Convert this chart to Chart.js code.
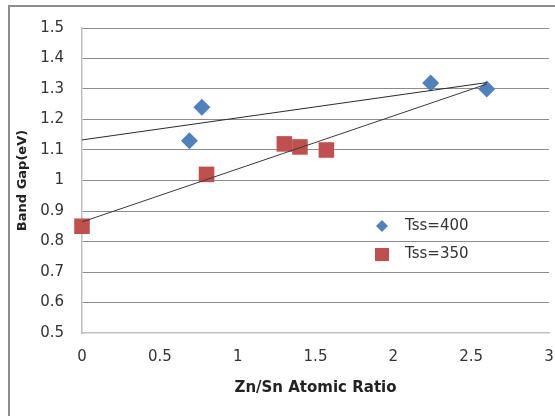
<!DOCTYPE html>
<html>
<head>
<meta charset="utf-8">
<script src="https://cdn.jsdelivr.net/npm/chart.js@4/dist/chart.umd.min.js"></script>
<style>
  html, body { margin: 0; padding: 0; background: #fff; }
  #wrap { position: relative; width: 555px; height: 416px; overflow: hidden; background: #fff; }
  #frame { position: absolute; left: 8px; top: 5px; width: 600px; height: 500px; border: 2px solid #8c8c8c; }
  #myChart { position: absolute; left: 0; top: 0; }
</style>
</head>
<body>
<div id="wrap">
  <div id="frame"></div>
  <canvas id="myChart" width="555" height="416"></canvas>
</div>
<script>
'use strict';
// values
const ratio400 = [0.69, 0.77, 2.24, 2.6];
const gap400 = [1.13, 1.24, 1.32, 1.30];
const ratio350 = [0, 0.8, 1.3, 1.4, 1.57];
const gap350 = [0.85, 1.02, 1.12, 1.11, 1.10];

// trend lines (end points)
const trend400X = [0, 2.6];
const trend400Y = [1.133, 1.321];
const trend350X = [0, 2.6];
const trend350Y = [0.864, 1.316];

const seriesNames = ['Tss=400', 'Tss=350'];
const xTicks = [0, 0.5, 1, 1.5, 2, 2.5, 3];
const yMin = 0.5;
const yMax = 1.5;

const blue = '#4f81bd';
const red = '#c0504d';
const font = 'DejaVu Sans';

function toPoints(xs, ys) {
  let pts = [];
  for (let i = 0; i < xs.length; i++) {
    pts.push({ x: xs[i], y: ys[i] });
  }
  return pts;
}

// draws the little legend inside the plot
const legendBox = {
  id: 'legendBox',
  afterDraw(chart) {
    const ctx = chart.ctx;
    ctx.save();
    // diamond
    ctx.fillStyle = blue;
    ctx.beginPath();
    ctx.moveTo(382, 220);
    ctx.lineTo(388, 226);
    ctx.lineTo(382, 232);
    ctx.lineTo(376, 226);
    ctx.closePath();
    ctx.fill();
    // square
    ctx.fillStyle = red;
    ctx.fillRect(375, 248, 14, 13);

    ctx.fillStyle = '#333';
    ctx.font = '15px "' + font + '"';
    ctx.textBaseline = 'middle';
    ctx.textAlign = 'left';
    ctx.fillText(seriesNames[0], 405, 226);
    ctx.fillText(seriesNames[1], 405, 254);
    ctx.restore();
  }
};

function chartRender() {
  let ctx = document.getElementById('myChart').getContext('2d');
  let chart = new Chart(ctx, {
    type: 'scatter',
    data: {
      datasets: [
        {
          type: 'line',
          label: 'trend 400',
          data: toPoints(trend400X, trend400Y),
          borderColor: '#2b2b2b',
          borderWidth: 1,
          pointRadius: 0,
          fill: false
        },
        {
          type: 'line',
          label: 'trend 350',
          data: toPoints(trend350X, trend350Y),
          borderColor: '#3a3a3a',
          borderWidth: 1,
          pointRadius: 0,
          fill: false
        },
        {
          label: seriesNames[0],
          data: toPoints(ratio400, gap400),
          pointStyle: 'rectRot',
          pointRadius: 8.5,
          backgroundColor: blue,
          borderColor: blue,
          borderWidth: 0,
          clip: false
        },
        {
          label: seriesNames[1],
          data: toPoints(ratio350, gap350),
          pointStyle: 'rect',
          pointRadius: 11,
          backgroundColor: red,
          borderColor: red,
          borderWidth: 0,
          clip: false
        }
      ]
    },
    options: {
      responsive: false,
      animation: false,
      layout: { autoPadding: false, padding: { left: 0, top: 28, right: 6, bottom: 0 } },
      plugins: {
        legend: { display: false },
        tooltip: { enabled: false }
      },
      scales: {
        x: {
          type: 'linear',
          min: 0,
          max: 3,
          afterBuildTicks: (scale) => { scale.ticks = xTicks.map(v => ({ value: v })); },
          afterFit: (scale) => {
            scale.height = 83;
            scale.paddingLeft = 0;
            scale.paddingRight = 0;
          },
          grid: { display: false, drawTicks: false },
          border: { display: true, color: '#bfbfbf', width: 1.5 },
          ticks: {
            padding: 15,
            maxRotation: 0,
            color: '#333',
            font: { family: font, size: 15 },
            callback: (v) => String(v)
          },
          title: {
            display: true,
            text: 'Zn/Sn Atomic Ratio',
            color: '#222',
            font: { family: font, size: 15, weight: 'bold' },
            padding: { top: 0, bottom: 19 }
          }
        },
        y: {
          min: yMin,
          max: yMax,
          afterFit: (scale) => {
            scale.width = 82;
            scale.paddingTop = 0;
            scale.paddingBottom = 0;
          },
          grid: {
            drawTicks: false,
            color: (c) => (c.tick && c.tick.value === yMin ? 'rgba(0,0,0,0)' : '#8c8c8c'),
            lineWidth: 1
          },
          border: { display: true, color: '#bfbfbf', width: 1.5 },
          ticks: {
            stepSize: 0.1,
            padding: 18,
            color: '#333',
            font: { family: font, size: 15 },
            callback: (v) => String(Math.round(v * 10) / 10)
          },
          title: {
            display: true,
            text: 'Band Gap(eV)',
            color: '#222',
            font: { family: font, size: 13, weight: 'bold' },
            padding: { top: 15, bottom: 0 }
          }
        }
      }
    },
    plugins: [legendBox]
  });
}
chartRender();
</script>
</body>
</html>
